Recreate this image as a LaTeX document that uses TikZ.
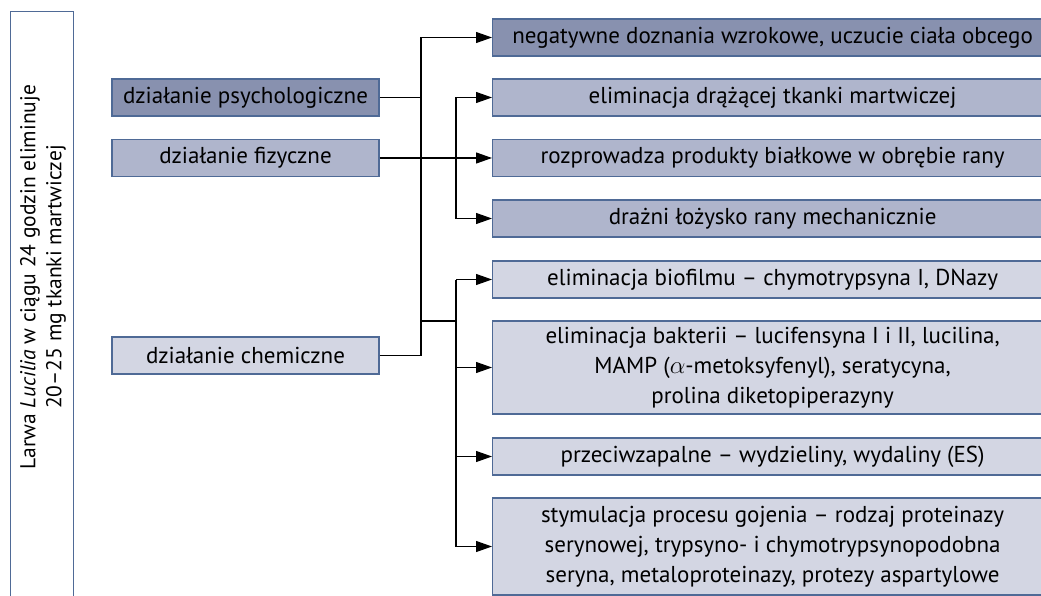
\documentclass[tikz,border=0pt]{standalone}
\usepackage{fontspec}
\setmainfont{PT Sans}
\usetikzlibrary{arrows.meta,calc}
\definecolor{bdark}{HTML}{8891AF}
\definecolor{bmid}{HTML}{AFB5CC}
\definecolor{blight}{HTML}{D3D6E3}
\definecolor{bedge}{HTML}{4F6A96}
\tikzset{
  box/.style={draw=bedge, line width=1.2pt, rectangle, inner sep=0pt, minimum height=37pt, font=\fontsize{23}{30}\selectfont, align=center},
  lbox/.style={box, minimum width=267pt},
  rbox/.style={box, minimum width=560pt, anchor=west},
  tall/.style={box, fill=white, minimum width=63pt, minimum height=600pt, anchor=north west},
  conn/.style={line width=1.2pt, draw=black},
  arr/.style={conn, -{Triangle[length=16pt,width=11pt]}},
}
\begin{document}
\begin{tikzpicture}[x=1pt,y=-1pt]
\useasboundingbox (0,0) rectangle (1041,596);
\clip (0,0) rectangle (1041,596);
% tall left box
\node[tall] (lar) at (10,11) {};
\node[rotate=90, font=\fontsize{21.5}{26}\selectfont, align=center] (lartxt) at (43,277)
  {Larwa \textit{Lucilia} w ciągu 24 godzin eliminuje\\20–25 mg tkanki martwiczej};
% left boxes
\node[lbox, fill=bdark] (psy) at (245.5,97.5) {działanie psychologiczne};
\node[lbox, fill=bmid] (fiz) at (245.5,158) {działanie fizyczne};
\node[lbox, fill=blight] (che) at (245.5,355.5) {działanie chemiczne};
% right boxes
\node[rbox, fill=bdark] (r1) at (492,37.5) {negatywne doznania wzrokowe, uczucie ciała obcego};
\node[rbox, fill=bmid] (r2) at (492,97.5) {eliminacja drążącej tkanki martwiczej};
\node[rbox, fill=bmid] (r3) at (492,158) {rozprowadza produkty białkowe w obrębie rany};
\node[rbox, fill=bmid] (r4) at (492,218.5) {drażni łożysko rany mechanicznie};
\node[rbox, fill=blight] (r5) at (492,279.5) {eliminacja biofilmu – chymotrypsyna I, DNazy};
\node[rbox, fill=blight, minimum height=93pt] (r6) at (492,367.5)
  {eliminacja bakterii – lucifensyna I i II, lucilina,\\MAMP ($\alpha$-metoksyfenyl), seratycyna,\\prolina diketopiperazyny};
\node[rbox, fill=blight] (r7) at (492,456.5) {przeciwzapalne – wydzieliny, wydaliny (ES)};
\node[rbox, fill=blight, minimum height=97pt] (r8) at (492,546.5)
  {stymulacja procesu gojenia – rodzaj proteinazy\\serynowej, trypsyno- i chymotrypsynopodobna\\seryna, metaloproteinazy, protezy aspartylowe};
% connector coordinates
\coordinate (tx) at (421,0);
\coordinate (bx) at (456,0);
\coordinate (cj) at (421,321);
% trunk
\draw[conn] (psy.east) -- (psy.east -| tx);
\draw[arr] (che.east) -| (tx |- r1.west) -- (r1.west);
% physical
\draw[arr] (fiz.east) -- (r3.west);
\draw[arr] (bx |- r3.west) |- (r2.west);
\draw[arr] (bx |- r3.west) |- (r4.west);
% chemical
\draw[conn] (cj) -- (cj -| bx);
\draw[conn] (bx |- r5.west) -- (bx |- r8.west);
\draw[arr] (bx |- r5.west) -- (r5.west);
\draw[arr] (bx |- r6.west) -- (r6.west);
\draw[arr] (bx |- r7.west) -- (r7.west);
\draw[arr] (bx |- r8.west) -- (r8.west);
\end{tikzpicture}
\end{document}
